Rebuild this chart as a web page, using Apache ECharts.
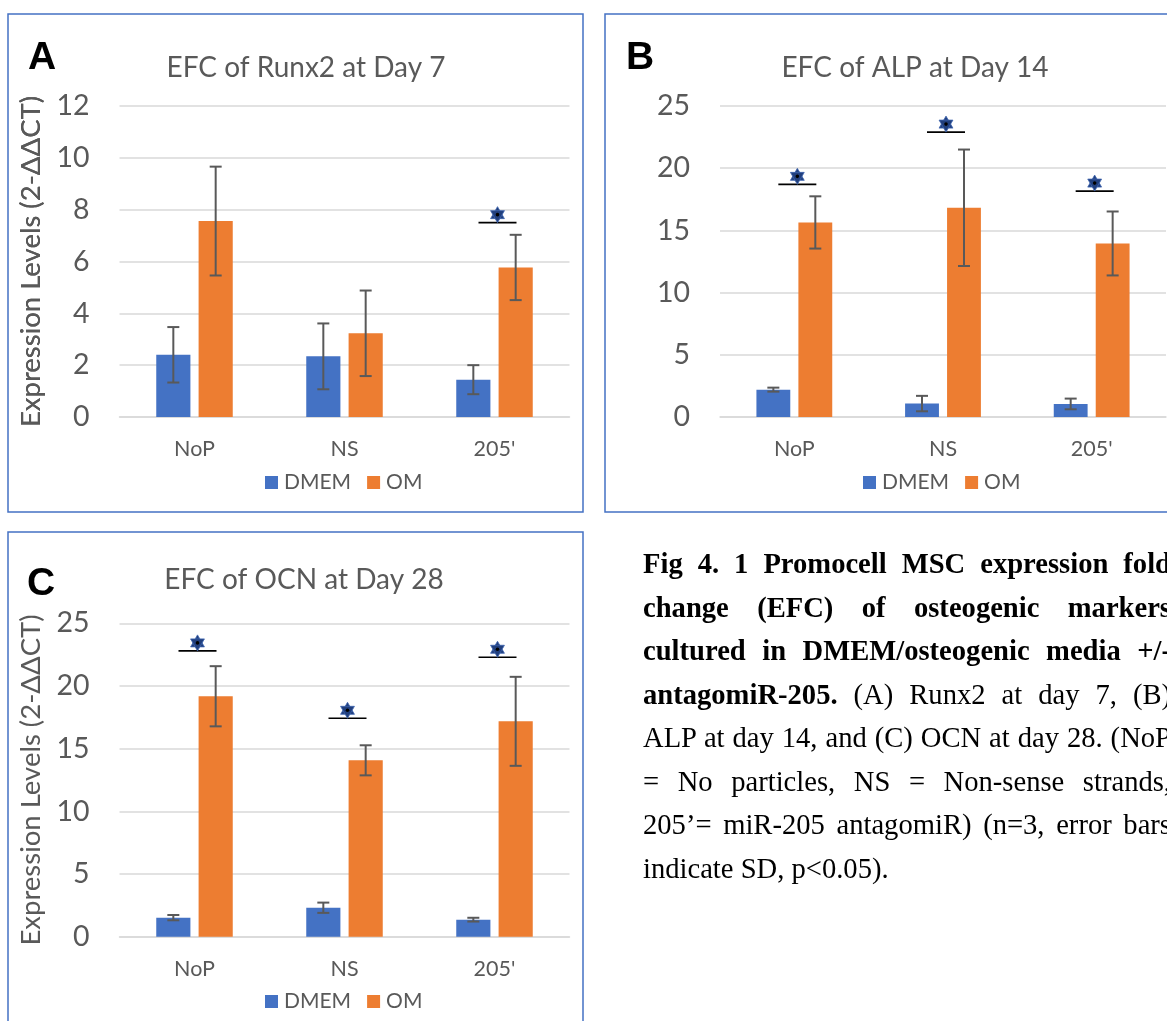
<!DOCTYPE html>
<html><head><meta charset="utf-8">
<script src="https://cdn.jsdelivr.net/npm/echarts@6/dist/echarts.min.js"></script>
<style>
html,body{margin:0;padding:0;width:1167px;height:1021px;overflow:hidden;background:#fff;}
#chart{position:absolute;left:0;top:0;width:1167px;height:1021px;}
#caption{position:absolute;left:643px;top:542px;width:528px;font-family:'Liberation Serif','Times New Roman',serif;font-size:28.6px;line-height:43.5px;color:#000;}
#caption .j{text-align:justify;text-align-last:justify;}
#caption .l{text-align:left;}
</style></head>
<body>
<div id="chart"></div>
<div id="caption">
<div class="j"><b>Fig 4. 1 Promocell MSC expression fold</b></div>
<div class="j"><b>change (EFC) of osteogenic markers</b></div>
<div class="j"><b>cultured in DMEM/osteogenic media +/-</b></div>
<div class="j"><b>antagomiR-205.</b> (A) Runx2 at day 7, (B)</div>
<div class="j">ALP at day 14, and (C) OCN at day 28. (NoP</div>
<div class="j">= No particles, NS = Non-sense strands,</div>
<div class="j">205’= miR-205 antagomiR) (n=3, error bars</div>
<div class="l">indicate SD, p&lt;0.05).</div>
</div>
<script>
// ---- data ----
const categories = ['NoP', 'NS', "205'"];
const seriesNames = ['DMEM', 'OM'];
const titles = ['EFC of Runx2 at Day 7', 'EFC of ALP at Day 14', 'EFC of OCN at Day 28'];
const panelLetters = ['A', 'B', 'C'];
const yAxisTitle = 'Expression Levels (2-ΔΔCT)';
const yMax = [12, 25, 25];
const yStep = [2, 5, 5];

const runx2DMEM = [2.40, 2.34, 1.44];
const runx2DMEMsd = [1.07, 1.27, 0.56];
const runx2OM = [7.56, 3.23, 5.77];
const runx2OMsd = [2.10, 1.65, 1.26];
const runx2Sig = [null, null, 7.5];

const alpDMEM = [2.20, 1.08, 1.05];
const alpDMEMsd = [0.16, 0.62, 0.43];
const alpOM = [15.64, 16.82, 13.95];
const alpOMsd = [2.10, 4.68, 2.57];
const alpSig = [18.7, 22.9, 18.16];

const ocnDMEM = [1.52, 2.31, 1.36];
const ocnDMEMsd = [0.21, 0.41, 0.15];
const ocnOM = [19.18, 14.07, 17.18];
const ocnOMsd = [2.40, 1.20, 3.55];
const ocnSig = [22.8, 17.42, 22.29];

// ---- layout / style ----
const panels = [
  {dm: runx2DMEM, dmsd: runx2DMEMsd, om: runx2OM, omsd: runx2OMsd, sig: runx2Sig,
   grid: {left: 119.5, top: 106, width: 450, height: 311},
   box: [8, 14, 575, 498], letter: [42, 58], title: [306, 68], legend: [260, 467]},
  {dm: alpDMEM, dmsd: alpDMEMsd, om: alpOM, omsd: alpOMsd, sig: alpSig,
   grid: {left: 720, top: 106, width: 446, height: 311},
   box: [605, 14, 620, 498], letter: [640, 58], title: [915, 68], legend: [858, 467]},
  {dm: ocnDMEM, dmsd: ocnDMEMsd, om: ocnOM, omsd: ocnOMsd, sig: ocnSig,
   grid: {left: 119.5, top: 623.3, width: 450, height: 313.4},
   box: [8, 532, 575, 540], letter: [41, 584], title: [304, 580], legend: [260, 986]}
];
const COLORS = ['#4472C4', '#ED7D31'];
const TXT = '#595959';
const FONT = 'Lato';
const CAT_GAP = 0.49, BAR_GAP = 0.24;

function errRender(side) {
  return function (params, api) {
    const ci = api.value(0), m = api.value(1), sd = api.value(2);
    const c = api.coord([ci, m]);
    const band = api.size([1, 0])[0];
    const barW = band * (1 - CAT_GAP) / (2 + BAR_GAP);
    const x = c[0] + side * barW * (1 + BAR_GAP) / 2;
    const top = api.coord([ci, m + sd])[1];
    const bot = api.coord([ci, m - sd])[1];
    const style = {stroke: '#595959', lineWidth: 2};
    return {type: 'group', children: [
      {type: 'line', shape: {x1: x, y1: top, x2: x, y2: bot}, style},
      {type: 'line', shape: {x1: x - 6, y1: top, x2: x + 6, y2: top}, style},
      {type: 'line', shape: {x1: x - 6, y1: bot, x2: x + 6, y2: bot}, style}
    ]};
  };
}
function sigRender(params, api) {
  const c = api.coord([api.value(0), api.value(1)]);
  const cx = c[0] + 3, y = c[1];
  const sy = y - 8, r = 8, k = r * Math.cos(Math.PI / 6);
  const starStyle = {fill: '#213F7D', stroke: '#3E64B0', lineWidth: 0.8};
  return {type: 'group', children: [
    {type: 'line', shape: {x1: cx - 19, y1: y, x2: cx + 19, y2: y}, style: {stroke: '#000', lineWidth: 1.6}},
    {type: 'polygon', shape: {points: [[cx, sy - r], [cx + k, sy + r / 2], [cx - k, sy + r / 2]]}, style: starStyle},
    {type: 'polygon', shape: {points: [[cx, sy + r], [cx + k, sy - r / 2], [cx - k, sy - r / 2]]}, style: starStyle},
    {type: 'circle', shape: {cx: cx, cy: sy, r: 1.8}, style: {fill: '#000'}}
  ]};
}

const option = {
  animation: false,
  grid: [], xAxis: [], yAxis: [], series: [], legend: [], graphic: []
};
panels.forEach((p, i) => {
  option.grid.push(Object.assign({containLabel: false}, p.grid));
  option.xAxis.push({
    type: 'category', gridIndex: i, data: categories,
    axisLine: {lineStyle: {color: '#D9D9D9', width: 1.5}},
    axisTick: {show: false},
    axisLabel: {color: TXT, fontSize: 21.5, fontFamily: FONT, margin: 21}
  });
  option.yAxis.push({
    type: 'value', gridIndex: i, min: 0, max: yMax[i], interval: yStep[i],
    name: yAxisTitle, nameLocation: 'middle', nameGap: p.grid.left - 45, nameRotate: 90,
    nameTextStyle: {color: TXT, fontSize: 27.5, fontFamily: FONT},
    axisLine: {show: false}, axisTick: {show: false},
    axisLabel: {color: TXT, fontSize: 28.5, fontFamily: FONT, margin: 30},
    splitLine: {lineStyle: {color: '#D9D9D9', width: 1.5}}
  });
  const vals = [p.dm, p.om], sds = [p.dmsd, p.omsd];
  seriesNames.forEach((nm, s) => {
    option.series.push({
      type: 'bar', name: nm, xAxisIndex: i, yAxisIndex: i, data: vals[s],
      barGap: (BAR_GAP * 100) + '%', barCategoryGap: (CAT_GAP * 100) + '%',
      itemStyle: {color: COLORS[s]}, z: 2
    });
  });
  seriesNames.forEach((nm, s) => {
    option.series.push({
      type: 'custom', name: nm + ' SD', xAxisIndex: i, yAxisIndex: i,
      data: vals[s].map((v, k) => [k, v, sds[s][k]]),
      encode: {x: 0, y: 1}, renderItem: errRender(s === 0 ? -1 : 1), z: 5, silent: true
    });
  });
  option.series.push({
    type: 'custom', name: 'sig' + i, xAxisIndex: i, yAxisIndex: i,
    data: p.sig.map((v, k) => v == null ? null : [k, v]).filter(d => d),
    encode: {x: 0, y: 1}, renderItem: sigRender, z: 6, silent: true
  });
  option.legend.push({
    data: seriesNames, left: p.legend[0], top: p.legend[1], icon: 'rect',
    itemWidth: 13, itemHeight: 13, itemGap: 16, selectedMode: false,
    textStyle: {color: TXT, fontSize: 21, fontFamily: FONT, padding: [0, 0, 0, 1]}
  });
  option.graphic.push({
    type: 'rect', shape: {x: p.box[0], y: p.box[1], width: p.box[2], height: p.box[3]},
    style: {fill: 'none', stroke: '#4472C4', lineWidth: 1.5}, silent: true
  });
  option.graphic.push({
    type: 'text', x: p.letter[0], y: p.letter[1],
    style: {text: panelLetters[i], font: 'bold 39px "Liberation Sans", Arial, sans-serif', fill: '#000', textAlign: 'center', textVerticalAlign: 'middle'}
  });
  option.graphic.push({
    type: 'text', x: p.title[0], y: p.title[1],
    style: {text: titles[i], font: '28px ' + FONT, fill: TXT, textAlign: 'center', textVerticalAlign: 'middle'}
  });
});

const chart = echarts.init(document.getElementById('chart'), null, {renderer: 'canvas'});
chart.setOption(option);
</script>
</body></html>
